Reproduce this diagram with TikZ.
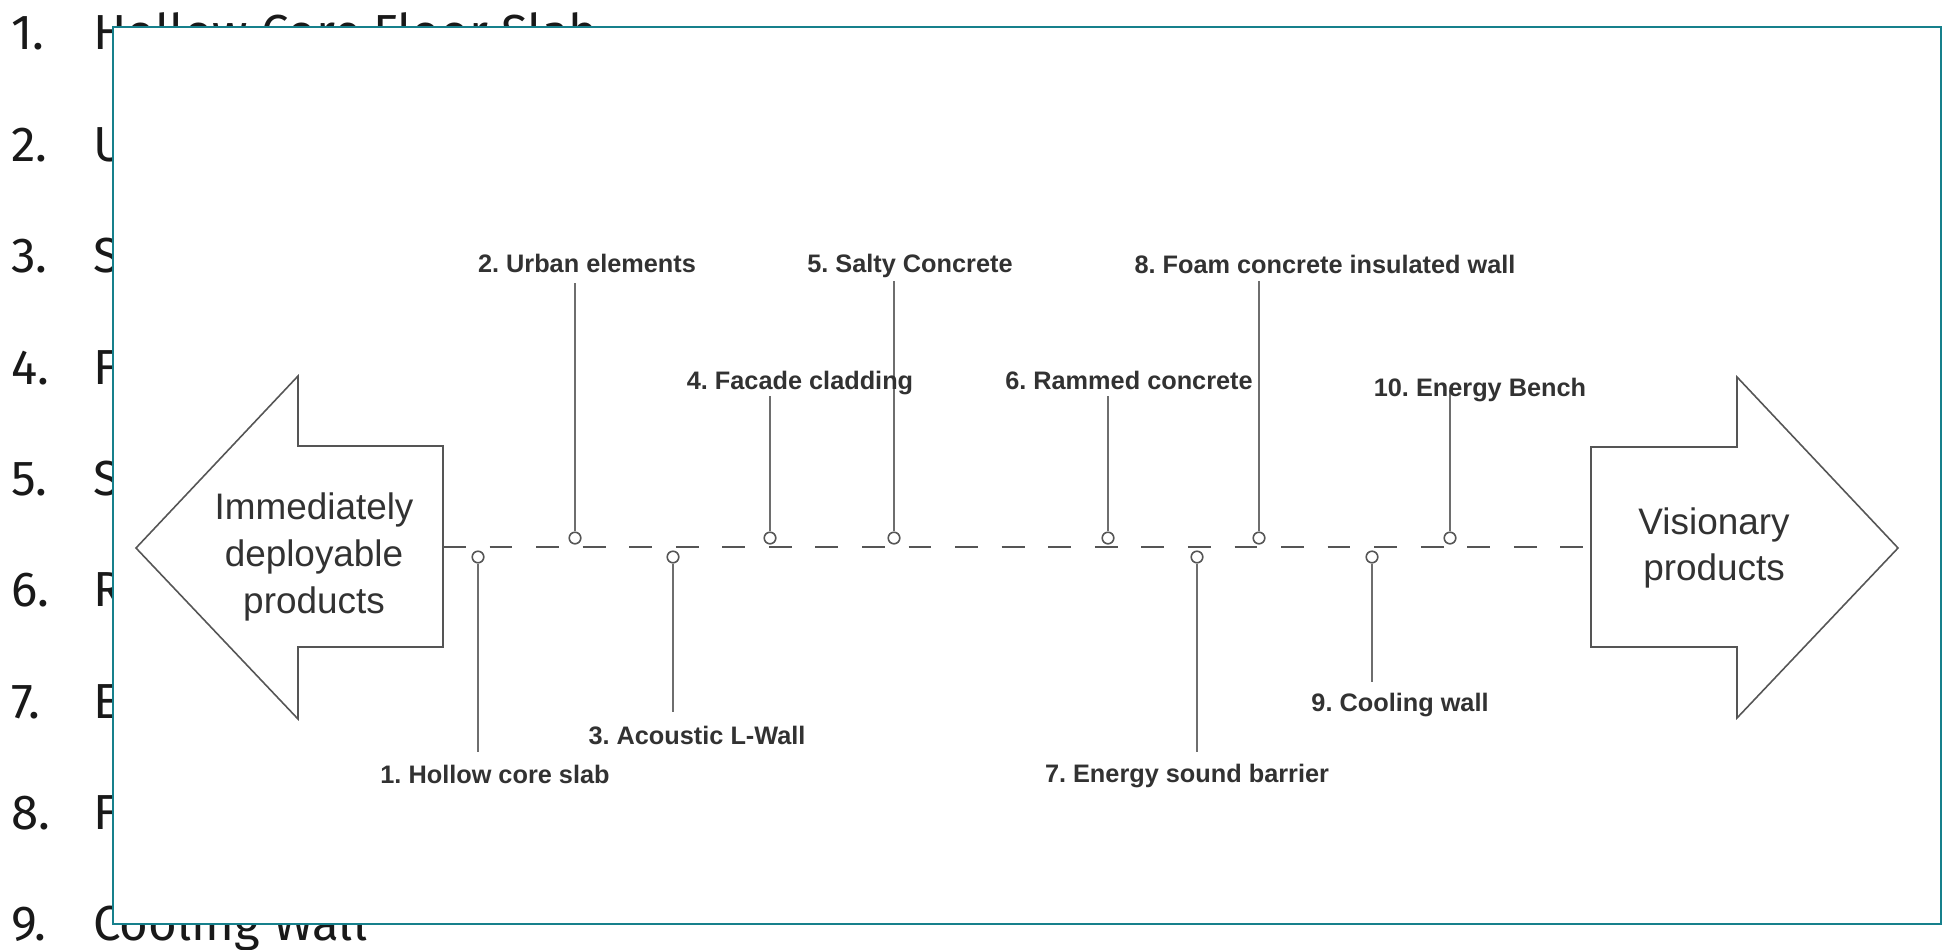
\documentclass[tikz,border=0pt]{standalone}
\usepackage{fontspec}
\setmainfont{Liberation Sans}
\newfontfamily\listfont{Fira Sans}
\usetikzlibrary{positioning}
\frenchspacing
\definecolor{frameteal}{RGB}{22,128,140}
\definecolor{lineg}{RGB}{85,85,85}
\definecolor{leadg}{RGB}{110,110,110}
\definecolor{textg}{RGB}{50,50,50}
\tikzset{
  listnum/.style={anchor=base west,inner sep=0pt,font=\listfont\fontsize{28}{32}\selectfont,text=black!90},
  listtxt/.style={listnum},
  lbl/.style={anchor=base,inner sep=0pt,font=\fontsize{14.4}{17}\selectfont\bfseries,text=textg},
  bigtxt/.style={align=center,inner sep=0pt,font=\fontsize{21}{26.6}\selectfont,text=textg},
  arrowshape/.style={draw=lineg,line width=0.9pt,line join=miter},
  pindot/.style={circle,draw=lineg,line width=0.9pt,fill=white,inner sep=0pt,minimum size=6.6pt},
  leader/.style={draw=leadg,line width=0.65pt},
  timeline/.style={draw=lineg,line width=1pt,dash pattern=on 13pt off 13.5pt}
}
\begin{document}
\begin{tikzpicture}[x=0.02cm,y=-0.02cm]
  \useasboundingbox (0,0) rectangle (1944,950);
  \fill[white] (0,0) rectangle (1944,950);

  %% background list
  \node[listnum] (n1) at (11,50)  {1.};
  \node[listtxt] (t1) at (93,50)  {Hollow Core Floor Slab};
  \node[listnum] (n2) at (11,161) {2.};
  \node[listtxt] (t2) at (93,161) {U};
  \node[listnum] (n3) at (11,272) {3.};
  \node[listtxt] (t3) at (93,272) {S};
  \node[listnum] (n4) at (11,384) {4.};
  \node[listtxt] (t4) at (93,384) {F};
  \node[listnum] (n5) at (11,495) {5.};
  \node[listtxt] (t5) at (93,495) {S};
  \node[listnum] (n6) at (11,606) {6.};
  \node[listtxt] (t6) at (93,606) {R};
  \node[listnum] (n7) at (11,718) {7.};
  \node[listtxt] (t7) at (93,718) {E};
  \node[listnum] (n8) at (11,829) {8.};
  \node[listtxt] (t8) at (93,829) {F};
  \node[listnum] (n9) at (11,940) {9.};
  \node[listtxt] (t9) at (93,940) {Cooling Wall};

  %% picture frame
  \draw[frameteal,line width=1.2pt,fill=white] (113,27) rectangle (1941,924);

  %% arrows
  \draw[arrowshape] (136,548) -- (298,376) -- (298,446) -- (443,446)
        -- (443,647) -- (298,647) -- (298,719) -- cycle;
  \draw[arrowshape] (1898,548) -- (1737,377) -- (1737,447) -- (1591,447)
        -- (1591,647) -- (1737,647) -- (1737,718) -- cycle;
  \node[bigtxt] (now) at (314,557) {Immediately\\deployable\\products};
  \node[bigtxt] (future) at (1714,548) {Visionary\\products};

  %% timeline
  \coordinate (lend) at (443,547);
  \coordinate (rend) at (1591,547);
  \draw[timeline] (lend) -- (rend);

  %% markers
  \node[pindot] (m1)  at (478,557)  {};
  \node[pindot] (m2)  at (575,538)  {};
  \node[pindot] (m3)  at (673,557)  {};
  \node[pindot] (m4)  at (770,538)  {};
  \node[pindot] (m5)  at (894,538)  {};
  \node[pindot] (m6)  at (1108,538) {};
  \node[pindot] (m7)  at (1197,557) {};
  \node[pindot] (m8)  at (1259,538) {};
  \node[pindot] (m9)  at (1372,557) {};
  \node[pindot] (m10) at (1450,538) {};

  %% leader ends
  \coordinate (e1)  at (478,752);
  \coordinate (e2)  at (575,283);
  \coordinate (e3)  at (673,712);
  \coordinate (e4)  at (770,396);
  \coordinate (e5)  at (894,281);
  \coordinate (e6)  at (1108,396);
  \coordinate (e7)  at (1197,752);
  \coordinate (e8)  at (1259,281);
  \coordinate (e9)  at (1372,682);
  \coordinate (e10) at (1450,390);
  \draw[leader] (m1.south) -- (e1);
  \draw[leader] (m2.north) -- (e2);
  \draw[leader] (m3.south) -- (e3);
  \draw[leader] (m4.north) -- (e4);
  \draw[leader] (m5.north) -- (e5);
  \draw[leader] (m6.north) -- (e6);
  \draw[leader] (m7.south) -- (e7);
  \draw[leader] (m8.north) -- (e8);
  \draw[leader] (m9.south) -- (e9);
  \draw[leader] (m10.north) -- (e10);

  %% labels
  \node[lbl] (l1)  at (495,783)  {1. Hollow core slab};
  \node[lbl] (l2)  at (587,272)  {2. Urban elements};
  \node[lbl] (l3)  at (697,744)  {3. Acoustic L-Wall};
  \node[lbl] (l4)  at (800,389)  {4. Facade cladding};
  \node[lbl] (l5)  at (910,272)  {5. Salty Concrete};
  \node[lbl] (l6)  at (1129,389) {6. Rammed concrete};
  \node[lbl] (l7)  at (1187,782) {7. Energy sound barrier};
  \node[lbl] (l8)  at (1325,273) {8. Foam concrete insulated wall};
  \node[lbl] (l9)  at (1400,711) {9. Cooling wall};
  \node[lbl] (l10) at (1480,396) {10. Energy Bench};
\end{tikzpicture}
\end{document}
